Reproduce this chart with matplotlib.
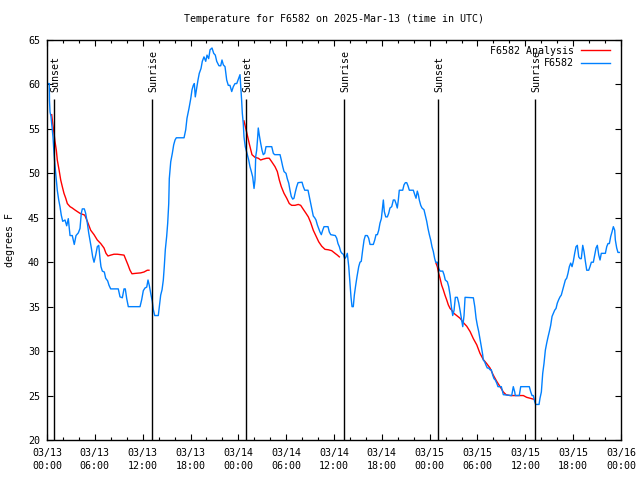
import matplotlib
matplotlib.use("Agg")
import matplotlib.pyplot as plt
from matplotlib.ticker import MultipleLocator

# ---- data (hours since 2025-03-13 00:00 UTC, temperature in F) ----
obs_hours = [0.04, 0.29, 0.31, 0.38, 0.50, 0.63, 0.75, 0.88, 1.00, 1.13, 1.29, 1.47, 1.63, 1.79, 1.97,
             2.26, 2.47, 2.67, 2.89, 3.17, 3.42, 3.64, 3.93, 4.14, 4.30, 4.43, 4.68, 4.85, 5.06, 5.23,
             5.39, 5.56, 5.73, 5.90, 6.11, 6.31, 6.49, 6.65, 6.77, 6.94, 7.19, 7.36, 7.61, 7.78, 7.99,
             8.94, 9.16, 9.45, 9.66, 9.82, 10.00, 10.20, 11.67, 11.88, 12.08, 12.29, 12.51, 12.67, 12.83,
             13.05, 13.21, 13.33, 13.51, 13.96, 14.09, 14.26, 14.43, 14.59, 14.71, 14.84, 15.01, 15.14,
             15.27, 15.34, 15.52, 15.72, 15.89, 16.06, 16.22, 17.19, 17.40, 17.56, 17.81, 18.03, 18.19,
             18.35, 18.48, 18.60, 18.78, 18.94, 19.10, 19.32, 19.48, 19.69, 19.91, 20.07, 20.28, 20.45,
             20.70, 20.91, 21.11, 21.29, 21.57, 21.79, 21.95, 22.12, 22.33, 22.54, 22.74, 22.95, 23.17,
             23.37, 23.58, 23.80, 24.05, 24.21, 24.33, 24.42, 24.50, 24.62, 24.71, 24.87, 25.13, 25.30,
             25.46, 25.63, 25.80, 25.97, 26.09, 26.18, 26.30, 26.43, 26.50, 26.63, 26.80, 26.97, 27.13,
             27.31, 27.47, 28.19, 28.39, 28.56, 29.23, 29.39, 29.57, 29.73, 29.98, 30.14, 30.32, 30.48,
             30.64, 30.82, 30.98, 31.15, 31.32, 31.49, 31.99, 32.15, 32.33, 32.74, 32.90, 33.08, 33.24,
             33.40, 33.58, 33.74, 33.91, 34.08, 34.24, 34.41, 34.58, 34.75, 35.25, 35.41, 35.59, 36.16,
             36.34, 36.50, 36.67, 36.84, 37.00, 37.17, 37.34, 37.51, 37.67, 37.85, 38.01, 38.13, 38.26,
             38.42, 38.55, 38.72, 38.89, 39.10, 39.26, 39.42, 39.60, 39.77, 39.93, 40.18, 40.35, 40.52,
             40.93, 41.11, 41.27, 41.44, 41.61, 41.77, 41.94, 42.06, 42.19, 42.31, 42.49, 42.69, 42.86,
             43.02, 43.24, 43.44, 43.62, 43.78, 43.94, 44.07, 44.19, 44.62, 44.78, 44.95, 45.12, 45.28,
             45.45, 45.95, 46.13, 46.29, 46.45, 46.58, 46.70, 46.88, 47.04, 47.29, 47.45, 47.63, 47.79,
             47.96, 48.13, 48.29, 48.46, 48.63, 48.76, 48.96, 49.13, 49.30, 49.64, 49.80, 49.96, 50.22,
             50.39, 50.56, 50.72, 50.89, 51.06, 51.22, 51.47, 51.65, 51.81, 51.97, 52.15, 52.31, 52.44,
             53.48, 53.66, 53.82, 53.98, 54.15, 54.31, 54.48, 54.65, 54.73, 54.90, 55.07, 55.23, 55.40,
             55.57, 55.73, 55.91, 56.07, 56.23, 56.41, 56.57, 56.99, 57.16, 57.24, 58.29, 58.49, 58.67,
             58.74, 59.24, 59.42, 60.50, 60.68, 60.84, 61.00, 61.18, 61.30, 61.72, 61.84, 62.01, 62.18,
             62.34, 62.51, 62.68, 62.85, 63.01, 63.18, 63.35, 63.51, 63.68, 63.85, 64.01, 64.19, 64.35,
             64.51, 64.69, 64.85, 65.02, 65.19, 65.35, 65.52, 65.69, 65.86, 66.02, 66.19, 66.36, 66.52,
             66.70, 66.86, 67.02, 67.20, 67.36, 67.53, 67.70, 67.95, 68.11, 68.28, 68.53, 68.70, 68.87,
             69.03, 69.21, 69.37, 69.53, 70.04, 70.21, 70.37, 70.54, 70.71, 70.87, 71.04, 71.21, 71.29,
             71.46, 71.62, 71.79]
obs_temps = [60.1, 60.1, 58.2, 56.9, 56.4, 55.25, 54.1, 52.25, 50.9, 49.6, 48.1, 47.0, 46.25, 45.3, 44.6,
             44.75, 44.1, 44.9, 43.0, 43.0, 42.0, 43.0, 43.3, 43.8, 45.5, 46.0, 46.0, 45.5, 44.4, 43.3,
             42.5, 41.6, 40.6, 40.0, 40.8, 41.75, 41.9, 40.4, 39.5, 39.0, 38.9, 38.2, 37.9, 37.4, 37.0,
             37.0, 36.1, 36.0, 37.0, 37.0, 35.9, 35.0, 35.0, 35.8, 36.8, 37.1, 37.2, 38.0, 37.4,
             36.3, 35.6, 34.7, 34.0, 34.0, 35.0, 36.3, 36.9, 38.0, 39.5, 41.4, 42.9, 44.4,
             46.6, 49.4, 51.3, 52.25, 53.2, 53.75, 54.0, 54.0, 54.9, 56.2, 57.3, 58.4, 59.4,
             59.9, 60.1, 58.6, 59.6, 60.5, 61.25, 61.8, 62.6, 63.1, 62.6, 63.3, 62.9, 63.9,
             64.1, 63.5, 63.3, 62.6, 62.1, 62.1, 62.75, 62.2, 62.0, 60.5, 59.9, 59.9, 59.2,
             59.75, 60.1, 60.1, 60.7, 61.1, 59.4, 58.1, 56.75, 55.6, 54.1, 53.0, 52.1, 51.5,
             50.75, 50.2, 49.6, 48.3, 49.25, 51.9, 52.6, 54.1, 55.1, 54.3, 53.4, 52.6, 52.1,
             52.25, 53.0, 53.0, 52.25, 52.1, 52.1, 51.5, 50.75, 50.2, 50.0, 49.4, 48.9, 48.1,
             47.4, 47.1, 47.2, 47.9, 48.5, 48.95, 49.0, 48.5, 48.1, 48.1, 47.4, 46.6, 45.9,
             45.2, 45.0, 44.75, 44.2, 43.8, 43.4, 43.1, 43.6, 44.0, 44.0, 43.4, 43.1, 43.0,
             42.7, 42.1, 41.75, 41.2, 41.0, 40.9, 40.4, 40.6, 41.0, 39.5, 37.6, 36.1, 35.0,
             35.0, 36.3, 37.4, 38.4, 39.5, 40.0, 40.1, 41.4, 42.5, 43.0, 43.0, 42.7, 42.0,
             42.0, 42.5, 43.1, 43.1, 43.6, 44.4, 44.9, 45.9, 47.0, 45.7, 45.1, 45.1, 45.5,
             46.1, 46.25, 47.0, 47.0, 46.6, 46.1, 47.0, 48.1, 48.1, 48.7, 48.95, 48.95, 48.6,
             48.1, 48.1, 47.6, 47.2, 48.0, 47.6, 47.0, 46.4, 46.1, 45.9, 45.3, 44.6, 43.8,
             43.1, 42.5, 41.75, 41.2, 40.4, 40.0, 40.0, 39.3, 39.0, 39.0, 38.6, 38.0, 37.8,
             37.25, 36.3, 35.0, 34.0, 34.6, 36.05, 36.05, 35.4, 34.6, 33.7, 32.75, 34.0, 36.05,
             36.0, 35.0, 33.7, 32.9, 32.2, 31.4, 30.5, 29.6, 29.0, 28.8, 28.4, 28.1, 28.1,
             27.9, 27.9, 27.3, 26.9, 26.75, 26.4, 26.0, 26.0, 25.4, 25.1, 25.0, 26.0, 25.4,
             25.0, 25.0, 26.0, 26.0, 25.4, 25.0, 25.0, 24.3, 24.0, 24.0, 24.7, 25.4, 27.5,
             28.6, 30.1, 30.9, 31.6, 32.2, 32.9, 33.9, 34.25, 34.6, 34.8, 35.4, 35.8, 36.1,
             36.3, 36.9, 37.4, 38.0, 38.2, 38.75, 39.5, 39.9, 39.5, 40.1, 41.0, 41.75, 41.9,
             40.6, 40.4, 40.4, 41.9, 41.2, 40.1, 39.1, 39.1, 39.5, 40.0, 40.0, 40.8, 41.6,
             41.9, 40.8, 40.25, 41.0, 41.0, 41.75, 42.1, 42.1, 42.9, 43.4, 44.0, 43.6, 42.5,
             41.6, 41.1, 41.1]

ana1_hours = [0.59, 0.72, 0.88, 1.00, 1.17, 1.29, 1.51, 1.72, 1.92, 2.13, 2.35, 2.55, 2.89, 3.17, 3.47,
              3.80, 4.14, 4.43, 4.73, 5.06, 5.48, 5.90, 6.31, 6.74, 7.15, 7.40, 7.65, 7.99, 8.40, 8.82,
              9.66, 9.91, 10.16, 10.41, 10.66, 11.13, 11.75, 12.17, 12.58, 12.79]
ana1_temps = [56.6, 55.6, 54.5, 53.6, 52.6, 51.5, 50.4, 49.25, 48.5, 47.75, 47.2, 46.6, 46.25, 46.1, 45.9,
              45.7, 45.5, 45.4, 45.3, 44.6, 43.6, 43.1, 42.5, 42.1, 41.6, 41.0, 40.7, 40.8, 40.9, 40.9,
              40.8, 40.25, 39.7, 39.1, 38.7, 38.75, 38.8, 38.9, 39.1, 39.1]
ana2_hours = [24.71, 25.05, 25.38, 25.71, 26.09, 26.50, 26.80, 27.13, 27.56, 27.88, 28.19, 28.60, 28.89,
              29.14, 29.39, 29.73, 30.07, 30.39, 30.69, 31.11, 31.52, 31.82, 32.15, 32.49, 32.78, 33.08,
              33.40, 33.74, 34.08, 34.46, 34.87, 35.29, 35.71, 36.13, 36.42, 36.67]
ana2_temps = [55.9, 54.6, 53.3, 52.1, 51.8, 51.7, 51.5, 51.6, 51.7, 51.7, 51.3, 50.75, 50.2,
              49.25, 48.5, 47.75, 47.2, 46.6, 46.4, 46.4, 46.5, 46.4, 45.95, 45.5, 45.1, 44.45,
              43.6, 42.95, 42.3, 41.8, 41.45, 41.4, 41.3, 41.0, 40.8, 40.6]
ana3_hours = [48.79, 48.96, 49.13, 49.30, 49.51, 49.71, 49.92, 50.14, 50.34, 50.56, 50.77, 50.97, 51.39,
              51.81, 52.23, 52.65, 53.07, 53.48, 53.91, 54.31, 54.73, 55.15, 55.57, 55.98, 56.41, 56.83,
              57.24, 57.58, 58.08, 59.75, 60.17, 60.59, 61.00]
ana3_temps = [39.9, 39.5, 38.75, 38.2, 37.4, 36.9, 36.3, 35.75, 35.2, 34.8, 34.6, 34.3, 34.0,
              33.7, 33.2, 32.8, 32.2, 31.4, 30.7, 29.75, 29.05, 28.6, 28.1, 27.3, 26.6, 26.0,
              25.4, 25.1, 25.0, 25.0, 24.8, 24.7, 24.6]

sun_hours = [0.92, 13.21, 25.00, 37.29, 49.08, 61.25]
sun_labels = ["Sunset", "Sunrise", "Sunset", "Sunrise", "Sunset", "Sunrise"]

tick_hours = [0, 6, 12, 18, 24, 30, 36, 42, 48, 54, 60, 66, 72]
tick_labels = ["03/13\n00:00", "03/13\n06:00", "03/13\n12:00", "03/13\n18:00",
               "03/14\n00:00", "03/14\n06:00", "03/14\n12:00", "03/14\n18:00",
               "03/15\n00:00", "03/15\n06:00", "03/15\n12:00", "03/15\n18:00",
               "03/16\n00:00"]

title = "Temperature for F6582 on 2025-Mar-13 (time in UTC)"

# ---- styling ----
FS = 7.2
plt.rcParams['font.family'] = ['DejaVu Sans Mono', 'DejaVu Sans']
plt.rcParams['font.size'] = FS

fig = plt.figure(figsize=(6.4, 4.8), dpi=100)
ax = fig.add_axes([47/640, 1 - 440/480, 574/640, 400/480])

RED = '#ff0000'
BLUE = '#0080ff'

l1, = ax.plot(ana1_hours, ana1_temps, color=RED, lw=1.0, label='F6582 Analysis')
ax.plot(ana2_hours, ana2_temps, color=RED, lw=1.0)
ax.plot(ana3_hours, ana3_temps, color=RED, lw=1.0)
l2, = ax.plot(obs_hours, obs_temps, color=BLUE, lw=1.0, label='F6582')

ax.vlines(sun_hours, 20, 58.4, color='black', lw=1.0)
for h, lab in zip(sun_hours, sun_labels):
    ax.text(h + 0.1, 59.2, lab, rotation=90, ha='center', va='bottom', fontsize=FS)

ax.set_xlim(0, 72)
ax.set_ylim(20, 65)
ax.set_xticks(tick_hours)
ax.set_xticklabels(tick_labels, linespacing=1.45)
ax.xaxis.set_minor_locator(MultipleLocator(2))
ax.set_yticks(range(20, 66, 5))

ax.tick_params(which='both', direction='in', top=True, right=True, width=0.8, colors='black')
ax.tick_params(which='major', length=4.5)
ax.tick_params(which='minor', length=2.5)
ax.tick_params(axis='x', which='major', pad=5.5)
ax.tick_params(axis='y', which='major', pad=5)
for s in ax.spines.values():
    s.set_linewidth(1.0)

ax.set_ylabel('degrees F', fontsize=FS)
ax.yaxis.set_label_coords(-0.056, 0.5)
ax.set_title(title, fontsize=FS, pad=13)

leg = ax.legend(handles=[l1, l2], loc='upper right', bbox_to_anchor=(0.981, 0.985),
                frameon=False, markerfirst=False, handlelength=2.9, handletextpad=0.7,
                labelspacing=0.25, borderpad=0, borderaxespad=0, fontsize=FS)

fig.savefig('out.png', dpi=100)
